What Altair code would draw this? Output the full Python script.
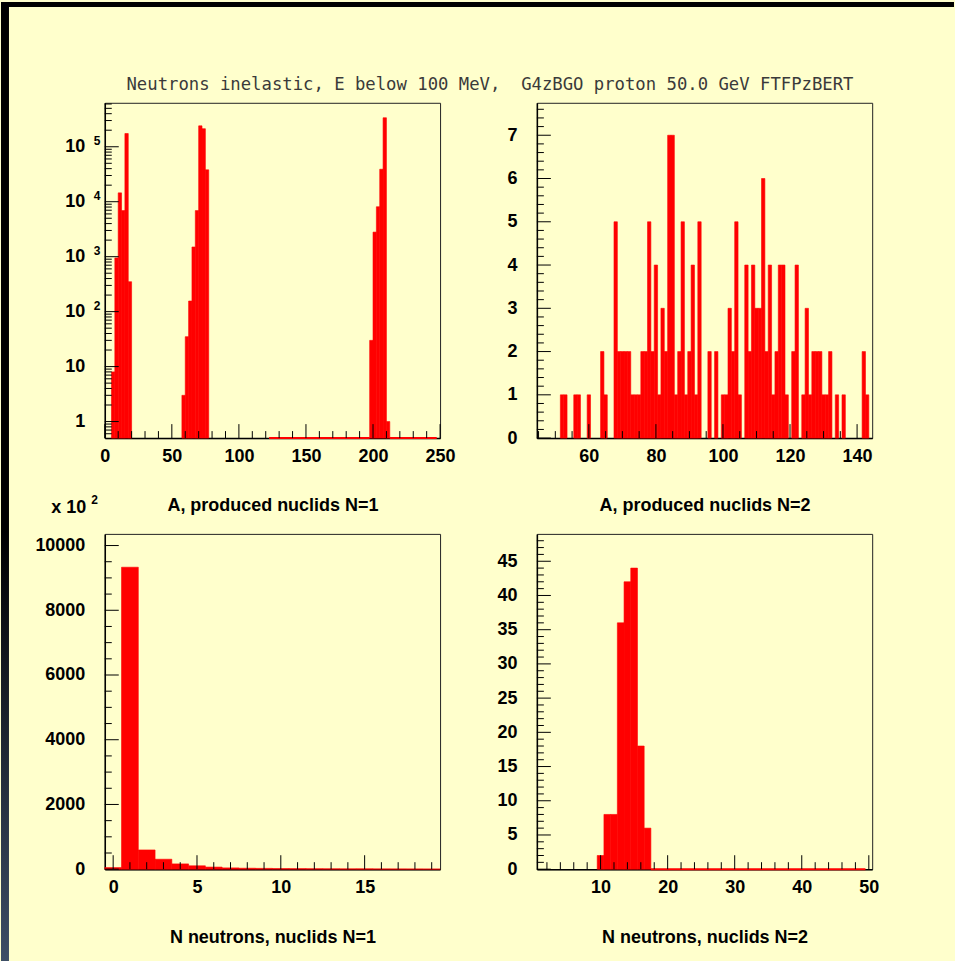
import altair as alt
import pandas as pd

BG = "#FFFFCC"
RED = "#FF0000"
FONT = "Liberation Sans"
W = 336
H = 336
MAJ = 14
MIN = 7

TITLE = "Neutrons inelastic, E below 100 MeV,\u00a0 G4zBGO proton 50.0 GeV FTFPzBERT"

# ---- Panel 1: A, produced nuclids N=1 (bins of 2.5, log scale) ----
p1_lo = [5.0, 7.5, 10.0, 12.5, 15.0, 17.5,
         57.5, 60.0, 62.5, 65.0, 67.5, 70.0, 72.5, 75.0,
         197.5, 200.0, 202.5, 205.0, 207.5, 210.0]
p1_cnt = [8, 950, 14500, 6900, 174000, 350,
          3, 35, 156, 1500, 6900, 240000, 213000, 38000,
          30, 2800, 8100, 39000, 337000, 1]
p1_zero_lo = [122.5, 212.5]
p1_zero_hi = [197.5, 247.5]

# ---- Panel 2: A, produced nuclids N=2 (bins of 1) ----
p2_A = [52, 53, 56, 57, 60, 64, 65, 68, 69, 70, 71, 72, 73, 74, 75, 76, 77, 78, 79, 80,
        81, 82, 83, 84, 85, 86, 87, 88, 89, 90, 91, 92, 93, 96, 98, 100, 101, 102, 103, 104,
        105, 107, 108, 109, 110, 111, 112, 113, 114, 115, 116, 117, 118, 119, 121, 122, 124, 125, 126, 127,
        128, 129, 130, 131, 132, 134, 136, 142, 143]
p2_cnt = [1, 1, 1, 1, 1, 2, 1, 5, 2, 2, 2, 2, 1, 1, 1, 2, 2, 5, 2, 4,
          1, 3, 2, 7, 7, 1, 2, 5, 1, 2, 4, 1, 5, 2, 2, 1, 1, 3, 2, 5,
          1, 4, 2, 4, 3, 3, 6, 2, 4, 1, 2, 4, 4, 1, 2, 4, 1, 3, 1, 2,
          2, 2, 1, 1, 2, 1, 1, 2, 1]

# ---- Panel 3: N neutrons, nuclids N=1 (x 10^2) ----
p3_N = [0, 1, 2, 3, 4, 5, 6, 7, 8, 9, 10, 11, 12, 13, 14, 15, 16, 17, 18, 19]
p3_cnt = [50, 9330, 594, 308, 163, 105, 65, 40, 30, 25, 20, 18, 15, 13, 11, 10, 9, 8, 7, 6]

# ---- Panel 4: N neutrons, nuclids N=2 ----
p4_N = [10, 11, 12, 13, 14, 15, 16, 17]
p4_cnt = [2, 8, 8, 36, 42, 44, 18, 6]
p4_zero_lo = [17.5]
p4_zero_hi = [49.5]

# tick values (axis decorations)
p1_xmaj = [0, 50, 100, 150, 200, 250]
p1_xmin = [v for v in range(10, 250, 10) if v % 50]
p1_ymaj = [1, 10, 100, 1000, 10000, 100000]
p1_ymin = [m * 10.0 ** k for k in range(-1, 6) for m in range(2, 10) if 0.5 < m * 10.0 ** k < 631000]
p1_exp_v = [100, 1000, 10000, 100000]
p1_exp_t = ["2", "3", "4", "5"]

p2_xmaj = [60, 80, 100, 120, 140]
p2_xmin = [v for v in range(45, 145, 5) if v % 20]
p2_ymaj = [0, 1, 2, 3, 4, 5, 6, 7]
p2_ymin = [i / 5 for i in range(1, 39) if i % 5]

p3_xmaj = [0, 5, 10, 15]
p3_xmin = [v for v in range(0, 20) if v % 5]
p3_ymaj = [0, 2000, 4000, 6000, 8000, 10000]
p3_ymin = [v for v in range(500, 10360, 500) if v % 2000]

p4_xmaj = [10, 20, 30, 40, 50]
p4_xmin = [v for v in range(2, 51, 2) if v % 10]
p4_ymaj = [0, 5, 10, 15, 20, 25, 30, 35, 40, 45]
p4_ymin = [v for v in range(1, 49) if v % 5]


def hist_df(lo, cnt, width, base):
    d = pd.DataFrame({"lo": lo, "cnt": cnt})
    d["hi"] = d["lo"] + width
    d["base"] = base
    return d


def panel(df, xs, ys, xax, yax, xmaj, xmin, ymaj, ymin, zeros=None, extra=(), pre=()):
    bars = alt.Chart(df).mark_rect(fill=RED, stroke=RED, strokeWidth=0.6).encode(
        x=alt.X("lo:Q", scale=xs, axis=xax),
        x2="hi:Q",
        y=alt.Y("cnt:Q", scale=ys, axis=yax),
        y2="base:Q",
    )
    layers = list(pre) + [bars]
    if zeros is not None:
        zdf = pd.DataFrame({"a": zeros[0], "b": zeros[1]})
        layers.append(
            alt.Chart(zdf).mark_rule(color=RED, strokeWidth=2).encode(
                x=alt.X("a:Q", scale=xs, axis=xax), x2="b:Q", y=alt.value(H)
            )
        )
    for vals, L in ((xmaj, MAJ), (xmin, MIN)):
        layers.append(
            alt.Chart(pd.DataFrame({"v": vals})).mark_rule(color="black", strokeWidth=1).encode(
                x=alt.X("v:Q", scale=xs, axis=xax), y=alt.value(H), y2=alt.value(H - L)
            )
        )
    for vals, L in ((ymaj, MAJ), (ymin, MIN)):
        layers.append(
            alt.Chart(pd.DataFrame({"v": vals})).mark_rule(color="black", strokeWidth=1).encode(
                y=alt.Y("v:Q", scale=ys, axis=yax), x=alt.value(0), x2=alt.value(L)
            )
        )
    layers += list(extra)
    return alt.layer(*layers).properties(width=W, height=H)


# ---- panel 1 ----
xs1 = alt.Scale(domain=[0, 250], nice=False, zero=False)
ys1 = alt.Scale(type="log", domain=[0.5, 631000], nice=False)
xax1 = alt.Axis(values=p1_xmaj, title="A, produced nuclids N=1", format="d")
yax1 = alt.Axis(values=p1_ymaj, title="", labelExpr="datum.value < 5 ? '1' : '10'")
exp1 = alt.Chart(pd.DataFrame({"v": p1_exp_v, "t": p1_exp_t})).mark_text(
    align="left", baseline="alphabetic", dy=-2, fontSize=12, fontWeight="bold", font=FONT, color="black"
).encode(x=alt.value(-11), y=alt.Y("v:Q", scale=ys1, axis=yax1), text="t:N")
title_mark = alt.Chart(pd.DataFrame({"t": [TITLE]})).mark_text(
    font="DejaVu Sans Mono", fontSize=17.3, color="#3a3a3a", align="center", baseline="alphabetic"
).encode(x=alt.value(386), y=alt.value(-13), text="t:N")
strip_top = alt.Chart(pd.DataFrame({"k": [0]})).mark_rect(color="black").encode(
    x=alt.value(-104), x2=alt.value(851), y=alt.value(-101), y2=alt.value(-96)
)
strip_left = alt.Chart(pd.DataFrame({"k": [0]})).mark_rect(
    color=alt.Gradient(
        gradient="linear", x1=0, x2=0, y1=0, y2=1,
        stops=[alt.GradientStop(color="#000000", offset=0),
               alt.GradientStop(color="#000000", offset=0.55),
               alt.GradientStop(color="#3d4e66", offset=1)],
    )
).encode(x=alt.value(-104), x2=alt.value(-96), y=alt.value(-101), y2=alt.value(860))

p1 = panel(
    hist_df(p1_lo, p1_cnt, 2.5, 0.5), xs1, ys1, xax1, yax1, p1_xmaj, p1_xmin, p1_ymaj, p1_ymin,
    zeros=(p1_zero_lo, p1_zero_hi), extra=[exp1, title_mark], pre=[strip_top, strip_left],
)

# ---- panel 2 ----
xs2 = alt.Scale(domain=[44.5, 144.5], nice=False, zero=False)
ys2 = alt.Scale(domain=[0, 7.75], nice=False)
xax2 = alt.Axis(values=p2_xmaj, title="A, produced nuclids N=2", format="d")
yax2 = alt.Axis(values=p2_ymaj, title="", format="d")
p2 = panel(
    hist_df([a - 0.5 for a in p2_A], p2_cnt, 1.0, 0), xs2, ys2, xax2, yax2,
    p2_xmaj, p2_xmin, p2_ymaj, p2_ymin,
)

# ---- panel 3 ----
xs3 = alt.Scale(domain=[-0.5, 19.5], nice=False, zero=False)
ys3 = alt.Scale(domain=[0, 10360], nice=False)
xax3 = alt.Axis(values=p3_xmaj, title="N neutrons, nuclids N=1", format="d")
yax3 = alt.Axis(values=p3_ymaj, title="x 10", format="d", titleAngle=0, titleX=-19, titleY=-21,
                titleAlign="right", titleBaseline="alphabetic")
exp3 = alt.Chart(pd.DataFrame({"t": ["2"]})).mark_text(
    align="left", baseline="alphabetic", fontSize=12, fontWeight="bold", font=FONT, color="black"
).encode(x=alt.value(-13.5), y=alt.value(-30), text="t:N")
p3 = panel(
    hist_df([n - 0.5 for n in p3_N], p3_cnt, 1.0, 0), xs3, ys3, xax3, yax3,
    p3_xmaj, p3_xmin, p3_ymaj, p3_ymin, extra=[exp3],
)

# ---- panel 4 ----
xs4 = alt.Scale(domain=[0.5, 50.5], nice=False, zero=False)
ys4 = alt.Scale(domain=[0, 49], nice=False)
xax4 = alt.Axis(values=p4_xmaj, title="N neutrons, nuclids N=2", format="d")
yax4 = alt.Axis(values=p4_ymaj, title="", format="d")
p4 = panel(
    hist_df([n - 0.5 for n in p4_N], p4_cnt, 1.0, 0), xs4, ys4, xax4, yax4,
    p4_xmaj, p4_xmin, p4_ymaj, p4_ymin, zeros=(p4_zero_lo, p4_zero_hi),
)

chart = alt.concat(p1, p2, p3, p4, columns=2, spacing={"row": 96, "column": 97}, bounds="flush").properties(
    padding=0,
    background=BG,
).configure_view(
    stroke="#222222", strokeWidth=1
).configure_axis(
    labelFont=FONT, labelFontSize=18, labelFontWeight="bold", labelColor="black",
    titleFont=FONT, titleFontSize=18, titleFontWeight="bold", titleColor="black",
    grid=False, ticks=False, tickSize=0, domainColor="black", domainWidth=1.5,
    labelFlush=False, labelOverlap=False,
).configure_axisX(
    labelPadding=23, labelBaseline="alphabetic", titleY=73, titleBaseline="alphabetic",
).configure_axisY(
    labelPadding=20, labelBaseline="middle",
)

chart.save("out.html", embed_options={"renderer": "svg", "actions": False})
